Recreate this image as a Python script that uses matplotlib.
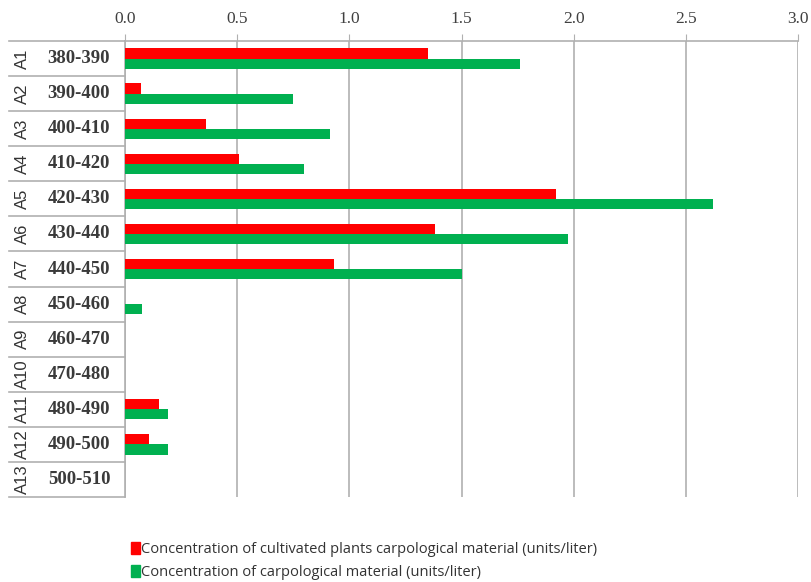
import numpy as np
import matplotlib
matplotlib.use('Agg')
import matplotlib.pyplot as plt
from matplotlib.patches import Patch
import matplotlib.transforms as mtransforms

# dados
codes = ['A1', 'A2', 'A3', 'A4', 'A5', 'A6', 'A7', 'A8', 'A9', 'A10', 'A11', 'A12', 'A13']
depths = ['380-390', '390-400', '400-410', '410-420', '420-430', '430-440', '440-450',
          '450-460', '460-470', '470-480', '480-490', '490-500', '500-510']
cultivated = [1.35, 0.07, 0.36, 0.51, 1.92, 1.38, 0.93, 0, 0, 0, 0.15, 0.105, 0]
carpological = [1.76, 0.75, 0.915, 0.80, 2.62, 1.975, 1.50, 0.077, 0, 0, 0.19, 0.19, 0]
ticks = [0.0, 0.5, 1.0, 1.5, 2.0, 2.5, 3.0]

label_red = 'Concentration of cultivated plants carpological material (units/liter)'
label_green = 'Concentration of carpological material (units/liter)'

red = '#ff0000'
green = '#00b050'
gray = '#b0b0b0'
txt = '#333333'

fig = plt.figure(figsize=(8.12, 5.82), dpi=100)
ax = fig.add_axes([125 / 812, 1 - 497 / 582, 673 / 812, 456 / 582])

y = np.arange(len(codes))
h = 0.29
ax.barh(y - h / 2, cultivated, height=h, color=red, zorder=3)
ax.barh(y + h / 2, carpological, height=h, color=green, zorder=3)

ax.set_xlim(0, 3.0)
ax.set_ylim(len(codes) - 0.5, -0.5)
ax.set_xticks(ticks)
ax.set_xticklabels(['%.1f' % t for t in ticks], family='Liberation Serif', fontsize=12.5,
                   color='#404040')
ax.xaxis.tick_top()
ax.tick_params(axis='x', length=5, color=gray, pad=5)
ax.set_yticks([])
ax.grid(axis='x', color=gray, linewidth=1.2, zorder=0)

for s in ['right', 'bottom']:
    ax.spines[s].set_visible(False)
ax.spines['left'].set_color(gray)
ax.spines['top'].set_color(gray)
ax.spines['top'].set_linewidth(1.2)
ax.spines['left'].set_linewidth(1.2)

# rotulos das categorias (duas colunas) e linhas separadoras
trans = mtransforms.blended_transform_factory(ax.transAxes, ax.transData)
x_left = (9 - 125) / 673
for i in range(len(codes)):
    ax.text((22 - 125) / 673, i, codes[i], transform=trans, rotation=90, ha='center', va='center',
            fontsize=12, color=txt, family='Liberation Sans')
    ax.text((79 - 125) / 673, i, depths[i], transform=trans, ha='center', va='center',
            fontsize=13.5, fontweight='bold', color='#3a3a3a', family='Liberation Serif')
for b in np.arange(-0.5, len(codes), 1.0):
    ax.plot([x_left, 0], [b, b], transform=trans, color=gray, linewidth=1.2, clip_on=False)

handles = [Patch(color=red, label=label_red), Patch(color=green, label=label_green)]
fig.legend(handles=handles, loc='upper left', bbox_to_anchor=(118 / 812, 1 - 529 / 582),
           frameon=False, handlelength=0.6, handleheight=0.9, handletextpad=0.1,
           labelspacing=0.5, prop={'family': 'Open Sans', 'size': 10.5}, labelcolor=txt)

fig.savefig('out.png', dpi=100)
